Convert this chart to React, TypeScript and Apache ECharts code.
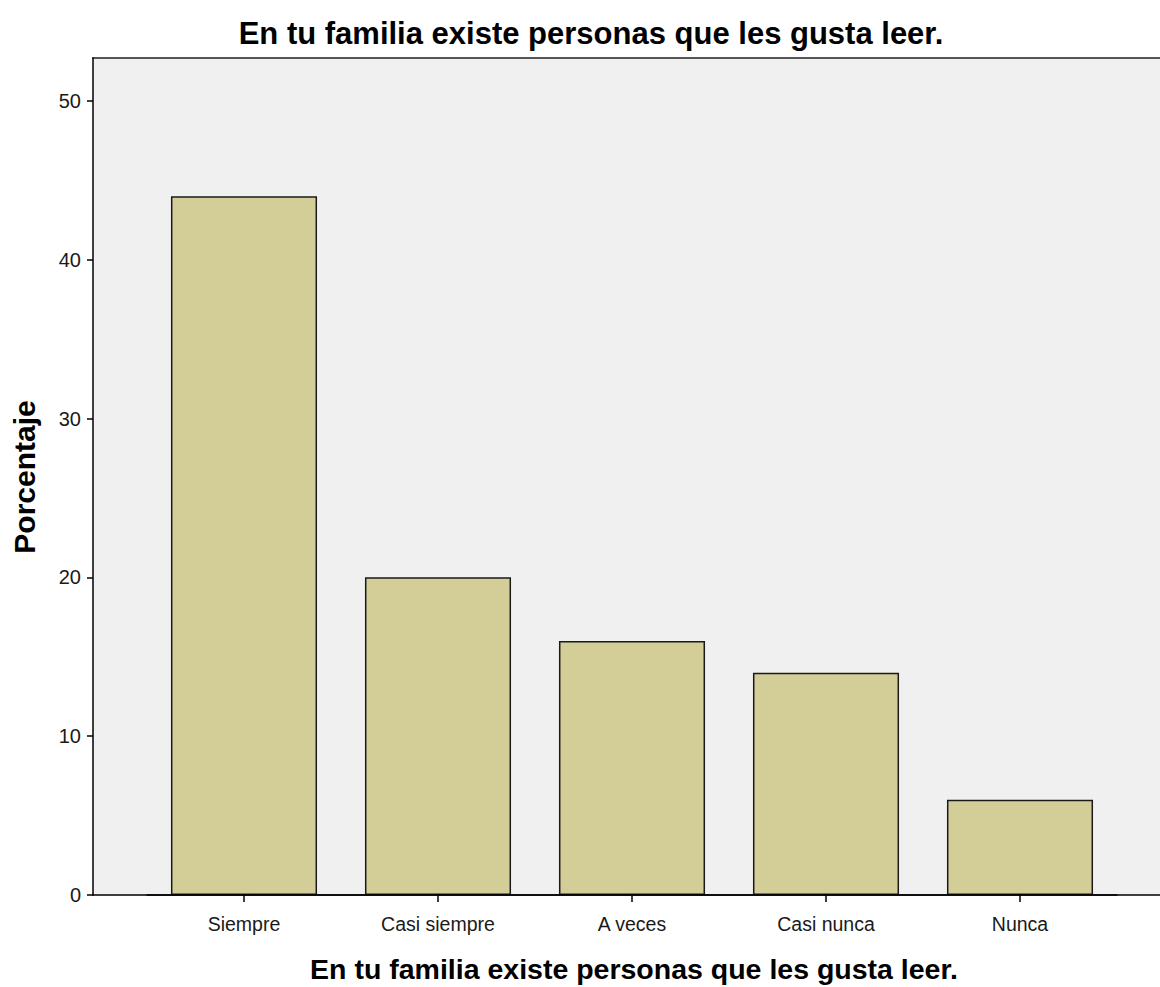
import React, { useEffect, useRef } from "react";
import * as echarts from "echarts";

const categories = ["Siempre", "Casi siempre", "A veces", "Casi nunca", "Nunca"];
const percentages = [44, 20, 16, 14, 6];
const yTicks = [0, 10, 20, 30, 40, 50];
const titleText = "En tu familia existe personas que les gusta leer.";
const yName = "Porcentaje";

export default function App() {
  const ref = useRef<HTMLDivElement>(null);
  useEffect(() => {
    const chart = echarts.init(ref.current!, undefined, { renderer: "svg" });
    const font = "'Liberation Sans', Arial, sans-serif";
    const yMax = 52.7;
    chart.setOption({
      animation: false,
      backgroundColor: "#ffffff",
      title: {
        text: titleText,
        left: 586,
        top: 13,
        textAlign: "center",
        textStyle: { fontFamily: font, fontSize: 31, fontWeight: "bold", color: "#000" },
      },
      graphic: [
        {
          type: "text",
          x: 634,
          y: 969,
          style: {
            text: titleText,
            fill: "#000",
            font: `bold 28.5px ${font}`,
            textAlign: "center",
            textVerticalAlign: "middle",
          },
        },
        {
          type: "text",
          x: 24,
          y: 477,
          rotation: Math.PI / 2,
          style: {
            text: yName,
            fill: "#000",
            font: `bold 30px ${font}`,
            textAlign: "center",
            textVerticalAlign: "middle",
          },
        },
      ],
      grid: [
        { left: 147, width: 970, top: 58, height: 837, show: false, containLabel: false },
        {
          left: 93,
          width: 1120,
          top: 58,
          height: 837,
          show: true,
          backgroundColor: "#f0f0f0",
          borderWidth: 0,
          containLabel: false,
        },
      ],
      xAxis: [
        {
          type: "category",
          gridIndex: 0,
          data: categories,
          axisLine: { show: true, lineStyle: { color: "#000", width: 1.5 } },
          axisTick: { show: true, alignWithLabel: true, length: 7, lineStyle: { color: "#000", width: 1.5 } },
          axisLabel: { fontFamily: font, fontSize: 19.5, color: "#1a1a1a", margin: 19, interval: 0 },
          splitLine: { show: false },
          z: 5,
        },
        {
          type: "value",
          gridIndex: 1,
          position: "bottom",
          axisLine: { show: true, onZero: false, lineStyle: { color: "#000", width: 1.5 } },
          axisTick: { show: false },
          axisLabel: { show: false },
          splitLine: { show: false },
        },
        {
          type: "value",
          gridIndex: 1,
          position: "top",
          axisLine: { show: true, onZero: false, lineStyle: { color: "#555555", width: 2 } },
          axisTick: { show: false },
          axisLabel: { show: false },
          splitLine: { show: false },
        },
      ],
      yAxis: [
        {
          type: "value",
          gridIndex: 0,
          min: 0,
          max: yMax,
          show: false,
          splitLine: { show: false },
        },
        {
          type: "value",
          gridIndex: 1,
          min: 0,
          max: yMax,
          axisLine: { show: true, lineStyle: { color: "#000", width: 1.5 } },
          axisTick: { show: true, length: 6, customValues: yTicks, lineStyle: { color: "#000", width: 1.5 } },
          axisLabel: { fontFamily: font, fontSize: 20, color: "#1a1a1a", margin: 12, customValues: yTicks },
          splitLine: { show: false },
          z: 5,
        },
      ],
      series: [
        {
          type: "bar",
          xAxisIndex: 0,
          yAxisIndex: 0,
          data: percentages,
          barWidth: "75.3%",
          itemStyle: { color: "#d3ce97", borderColor: "#1a1a1a", borderWidth: 1.5 },
          z: 3,
        },
      ],
    });
    return () => chart.dispose();
  }, []);
  return (
    <div
      ref={ref}
      style={{ position: "absolute", left: 0, top: 0, width: 1160, height: 987 }}
    />
  );
}
